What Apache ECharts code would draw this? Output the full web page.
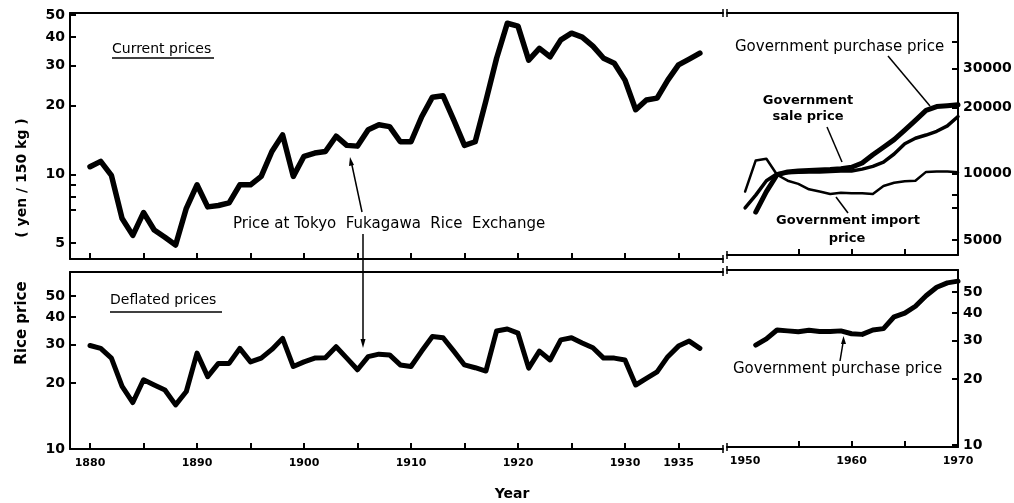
<!DOCTYPE html>
<html>
<head>
<meta charset="utf-8">
<title>Rice price</title>
<script src="https://cdn.jsdelivr.net/npm/echarts@6/dist/echarts.min.js"></script>
<style>
html, body { margin: 0; padding: 0; background: #fff; }
#chart { width: 1014px; height: 503px; }
</style>
</head>
<body>
<div id="chart"></div>
<script>
// prewar series, Tokyo Fukagawa Rice Exchange (yen / 150 kg)
var prewarYears = []
for (var yr = 1880; yr <= 1937; yr++) prewarYears.push(yr)
var currentPrices = [
  10.8, 11.4, 9.9, 6.4, 5.4, 6.8, 5.7, 5.3, 4.9, 7.1,
  9.0, 7.2, 7.3, 7.5, 9.0, 9.0, 9.8, 12.6, 14.9, 9.8,
  12.0, 12.4, 12.6, 14.7, 13.4, 13.3, 15.7, 16.5, 16.2, 13.9,
  13.9, 17.9, 21.8, 22.1, 17.3, 13.4, 13.9, 21.0, 32.3, 46.0,
  44.7, 31.7, 35.7, 32.8, 38.9, 41.6, 40.0, 36.5, 32.3, 30.7,
  25.9, 19.2, 21.2, 21.6, 25.9, 30.2, 32.0, 34.0
]
var deflatedPrices = [
  29.7, 28.8, 26.0, 19.3, 16.3, 20.7, 19.6, 18.6, 15.9, 18.3,
  27.4, 21.4, 24.6, 24.6, 28.8, 25.0, 26.0, 28.5, 32.0, 23.8,
  25.0, 26.0, 26.1, 29.3, 26.0, 23.0, 26.4, 27.1, 26.9, 24.2,
  23.8, 28.0, 32.6, 32.2, 28.0, 24.2, 23.5, 22.7, 34.6, 35.3,
  33.8, 23.4, 28.0, 25.5, 31.5, 32.2, 30.5, 29.0, 26.0, 26.0,
  25.5, 19.6, 21.0, 22.5, 26.4, 29.5, 31.1, 28.8
]

// postwar series (yen / 150 kg), 1950-1970
var postwarYears = []
for (var yr2 = 1950; yr2 <= 1970; yr2++) postwarYears.push(yr2)
var importPrice = [8300, 11500, 11700, 9900, 9300, 9000, 8500, 8300, 8100, 8200,
  8150, 8150, 8100, 8800, 9100, 9250, 9300, 10200, 10250, 10250, 10150]
var purchasePrice = [null, 6700, 8300, 9900, 10200, 10300, 10350, 10400, 10450, 10550,
  10700, 11200, 12200, 13200, 14300, 15800, 17500, 19400, 20200, 20400, 20600]
var salePrice = [7000, 8000, 9300, 10000, 10100, 10150, 10200, 10200, 10250, 10300,
  10300, 10500, 10800, 11300, 12300, 13700, 14500, 15000, 15600, 16500, 18200]
var purchaseDeflated = [null, 28.6, 30.5, 33.5, 33.2, 32.9, 33.4, 33.0, 33.0, 33.2,
  32.2, 32.0, 33.5, 34.0, 38.5, 40.0, 43.0, 48.0, 52.5, 55.0, 56.0]

// tick values and labels
var prewarTicks = [1880, 1885, 1890, 1895, 1900, 1905, 1910, 1915, 1920, 1925, 1930, 1935]
var prewarLabels = [1880, 1890, 1900, 1910, 1920, 1930, 1935]
var postwarTicks = [1955, 1960, 1965]
var postwarLabels = [1950, 1960, 1970]
var currentTicks = [5, 7, 8, 9, 10, 20, 30, 40, 50]
var currentLabels = [5, 10, 20, 30, 40, 50]
var postwarCurrentTicks = [5000, 7000, 8000, 10000, 20000, 30000, 40000]
var postwarCurrentLabels = [5000, 10000, 20000, 30000]
var deflatedTicks = [10, 20, 30, 40, 50]
var deflatedLabels = [10, 20, 30, 40, 50]

var FONT = 'DejaVu Sans'
var lg = Math.log10

function toPoints (years, values) {
  var pts = []
  years.forEach(function (y, i) {
    if (values[i] != null) pts.push([y, lg(values[i])])
  })
  return pts
}

function xBottom (grid, min, max, ticks, labels) {
  return {
    type: 'value', gridIndex: grid, min: min, max: max, position: 'bottom',
    axisLine: { show: true, onZero: false, lineStyle: { color: '#000', width: 2 } },
    axisTick: { show: true, inside: true, length: 6, customValues: ticks, lineStyle: { color: '#000', width: 2 } },
    axisLabel: {
      show: labels.length > 0, customValues: labels, margin: 9,
      color: '#000', fontFamily: FONT, fontWeight: 'bold', fontSize: 11,
      formatter: function (v) { return String(Math.round(v)) }
    },
    splitLine: { show: false }
  }
}

function xTop (grid, min, max) {
  return {
    type: 'value', gridIndex: grid, min: min, max: max, position: 'top',
    axisLine: { show: true, onZero: false, lineStyle: { color: '#000', width: 2 } },
    axisTick: { show: false }, axisLabel: { show: false }, splitLine: { show: false }
  }
}

function yLog (grid, side, min, max, ticks, labels) {
  return {
    type: 'value', gridIndex: grid, position: side, min: min, max: max,
    axisLine: { show: true, onZero: false, lineStyle: { color: '#000', width: 2 } },
    axisTick: { show: true, inside: true, length: 6, customValues: ticks.map(lg), lineStyle: { color: '#000', width: 2 } },
    axisLabel: {
      customValues: labels.map(lg), margin: 5,
      color: '#000', fontFamily: FONT, fontWeight: 'bold', fontSize: 14,
      formatter: function (v) { return String(Math.round(Math.pow(10, v))) }
    },
    splitLine: { show: false }
  }
}

function lineSeries (x, y, data, width) {
  return {
    type: 'line', xAxisIndex: x, yAxisIndex: y, data: data,
    symbol: 'none', silent: true,
    lineStyle: { color: '#000', width: width, join: 'round', cap: 'round' }
  }
}

function txt (x, y, text, size, weight, align, rot) {
  return {
    type: 'text', x: x, y: y, rotation: rot || 0, silent: true,
    style: {
      text: text, fill: '#000', fontFamily: FONT, fontSize: size,
      fontWeight: weight || 'normal', align: align || 'left', verticalAlign: 'middle'
    }
  }
}

function seg (x1, y1, x2, y2, w) {
  return { type: 'line', silent: true, shape: { x1: x1, y1: y1, x2: x2, y2: y2 }, style: { stroke: '#000', lineWidth: w || 1.5 } }
}

function head (points) {
  return { type: 'polygon', silent: true, shape: { points: points }, style: { fill: '#000' } }
}

// axis break marks between the two periods
var breaks = []
;[[13, 13], [259, 255], [272, 270], [449, 447]].forEach(function (p) {
  breaks.push(seg(723, p[0] - 4, 723, p[0] + 4, 1.5))
  breaks.push(seg(727, p[1] - 4, 727, p[1] + 4, 1.5))
})

var chart = echarts.init(document.getElementById('chart'))
chart.setOption({
  animation: false,
  backgroundColor: '#fff',
  grid: [
    { left: 70, top: 13, width: 653, height: 246, outerBoundsMode: 'none' },
    { left: 727, top: 13, width: 231, height: 242, outerBoundsMode: 'none' },
    { left: 70, top: 272, width: 653, height: 177, outerBoundsMode: 'none' },
    { left: 727, top: 270, width: 231, height: 177, outerBoundsMode: 'none' }
  ],
  xAxis: [
    xBottom(0, 1878.13, 1939.16, prewarTicks, []),
    xTop(0, 1878.13, 1939.16),
    xBottom(1, 1948.3, 1970, postwarTicks, []),
    xTop(1, 1948.3, 1970),
    xBottom(2, 1878.13, 1939.16, prewarTicks, prewarLabels),
    xTop(2, 1878.13, 1939.16),
    xBottom(3, 1948.3, 1970, postwarTicks, postwarLabels),
    xTop(3, 1948.3, 1970)
  ],
  yAxis: [
    yLog(0, 'left', 0.6288, 1.7077, currentTicks, currentLabels),
    yLog(1, 'right', 3.6308, 4.7308, postwarCurrentTicks, postwarCurrentLabels),
    yLog(2, 'left', 1.0, 1.8082, deflatedTicks, deflatedLabels),
    yLog(3, 'right', 0.9909, 1.7991, deflatedTicks, deflatedLabels)
  ],
  series: [
    lineSeries(0, 0, toPoints(prewarYears, currentPrices), 5.5),
    lineSeries(2, 1, toPoints(postwarYears, importPrice), 2.5),
    lineSeries(2, 1, toPoints(postwarYears, salePrice), 3.5),
    lineSeries(2, 1, toPoints(postwarYears, purchasePrice), 5),
    lineSeries(4, 2, toPoints(prewarYears, deflatedPrices), 5),
    lineSeries(6, 3, toPoints(postwarYears, purchaseDeflated), 5)
  ],
  graphic: breaks.concat([
    txt(22, 178, '( yen / 150 kg )', 14, 'bold', 'center', Math.PI / 2),
    txt(22, 323, 'Rice price', 15, 'bold', 'center', Math.PI / 2),
    txt(512, 494, 'Year', 14, 'bold', 'center'),
    txt(112, 49, 'Current prices', 14),
    seg(112, 58, 214, 58, 1.5),
    txt(110, 300, 'Deflated prices', 14),
    seg(110, 312, 222, 312, 1.5),
    txt(233, 224, 'Price at Tokyo  Fukagawa  Rice  Exchange', 15),
    seg(362, 212, 351.5, 163, 1.5),
    head([[350, 157], [354, 165], [349, 166]]),
    seg(363, 234, 363, 340, 1.5),
    head([[363, 348], [360.5, 339], [365.5, 339]]),
    txt(735, 47, 'Government purchase price', 15),
    seg(888, 56, 930, 106, 1.5),
    txt(808, 101, 'Government', 13, 'bold', 'center'),
    txt(808, 117, 'sale price', 13, 'bold', 'center'),
    seg(827, 127, 842, 162, 1.5),
    txt(848, 221, 'Government import', 13, 'bold', 'center'),
    txt(847, 239, 'price', 13, 'bold', 'center'),
    seg(836, 197, 848, 213, 1.5),
    txt(733, 369, 'Government purchase price', 15),
    seg(840, 361, 843, 343, 1.5),
    head([[843.5, 336], [841, 344], [846, 344]])
  ])
})
</script>
</body>
</html>
